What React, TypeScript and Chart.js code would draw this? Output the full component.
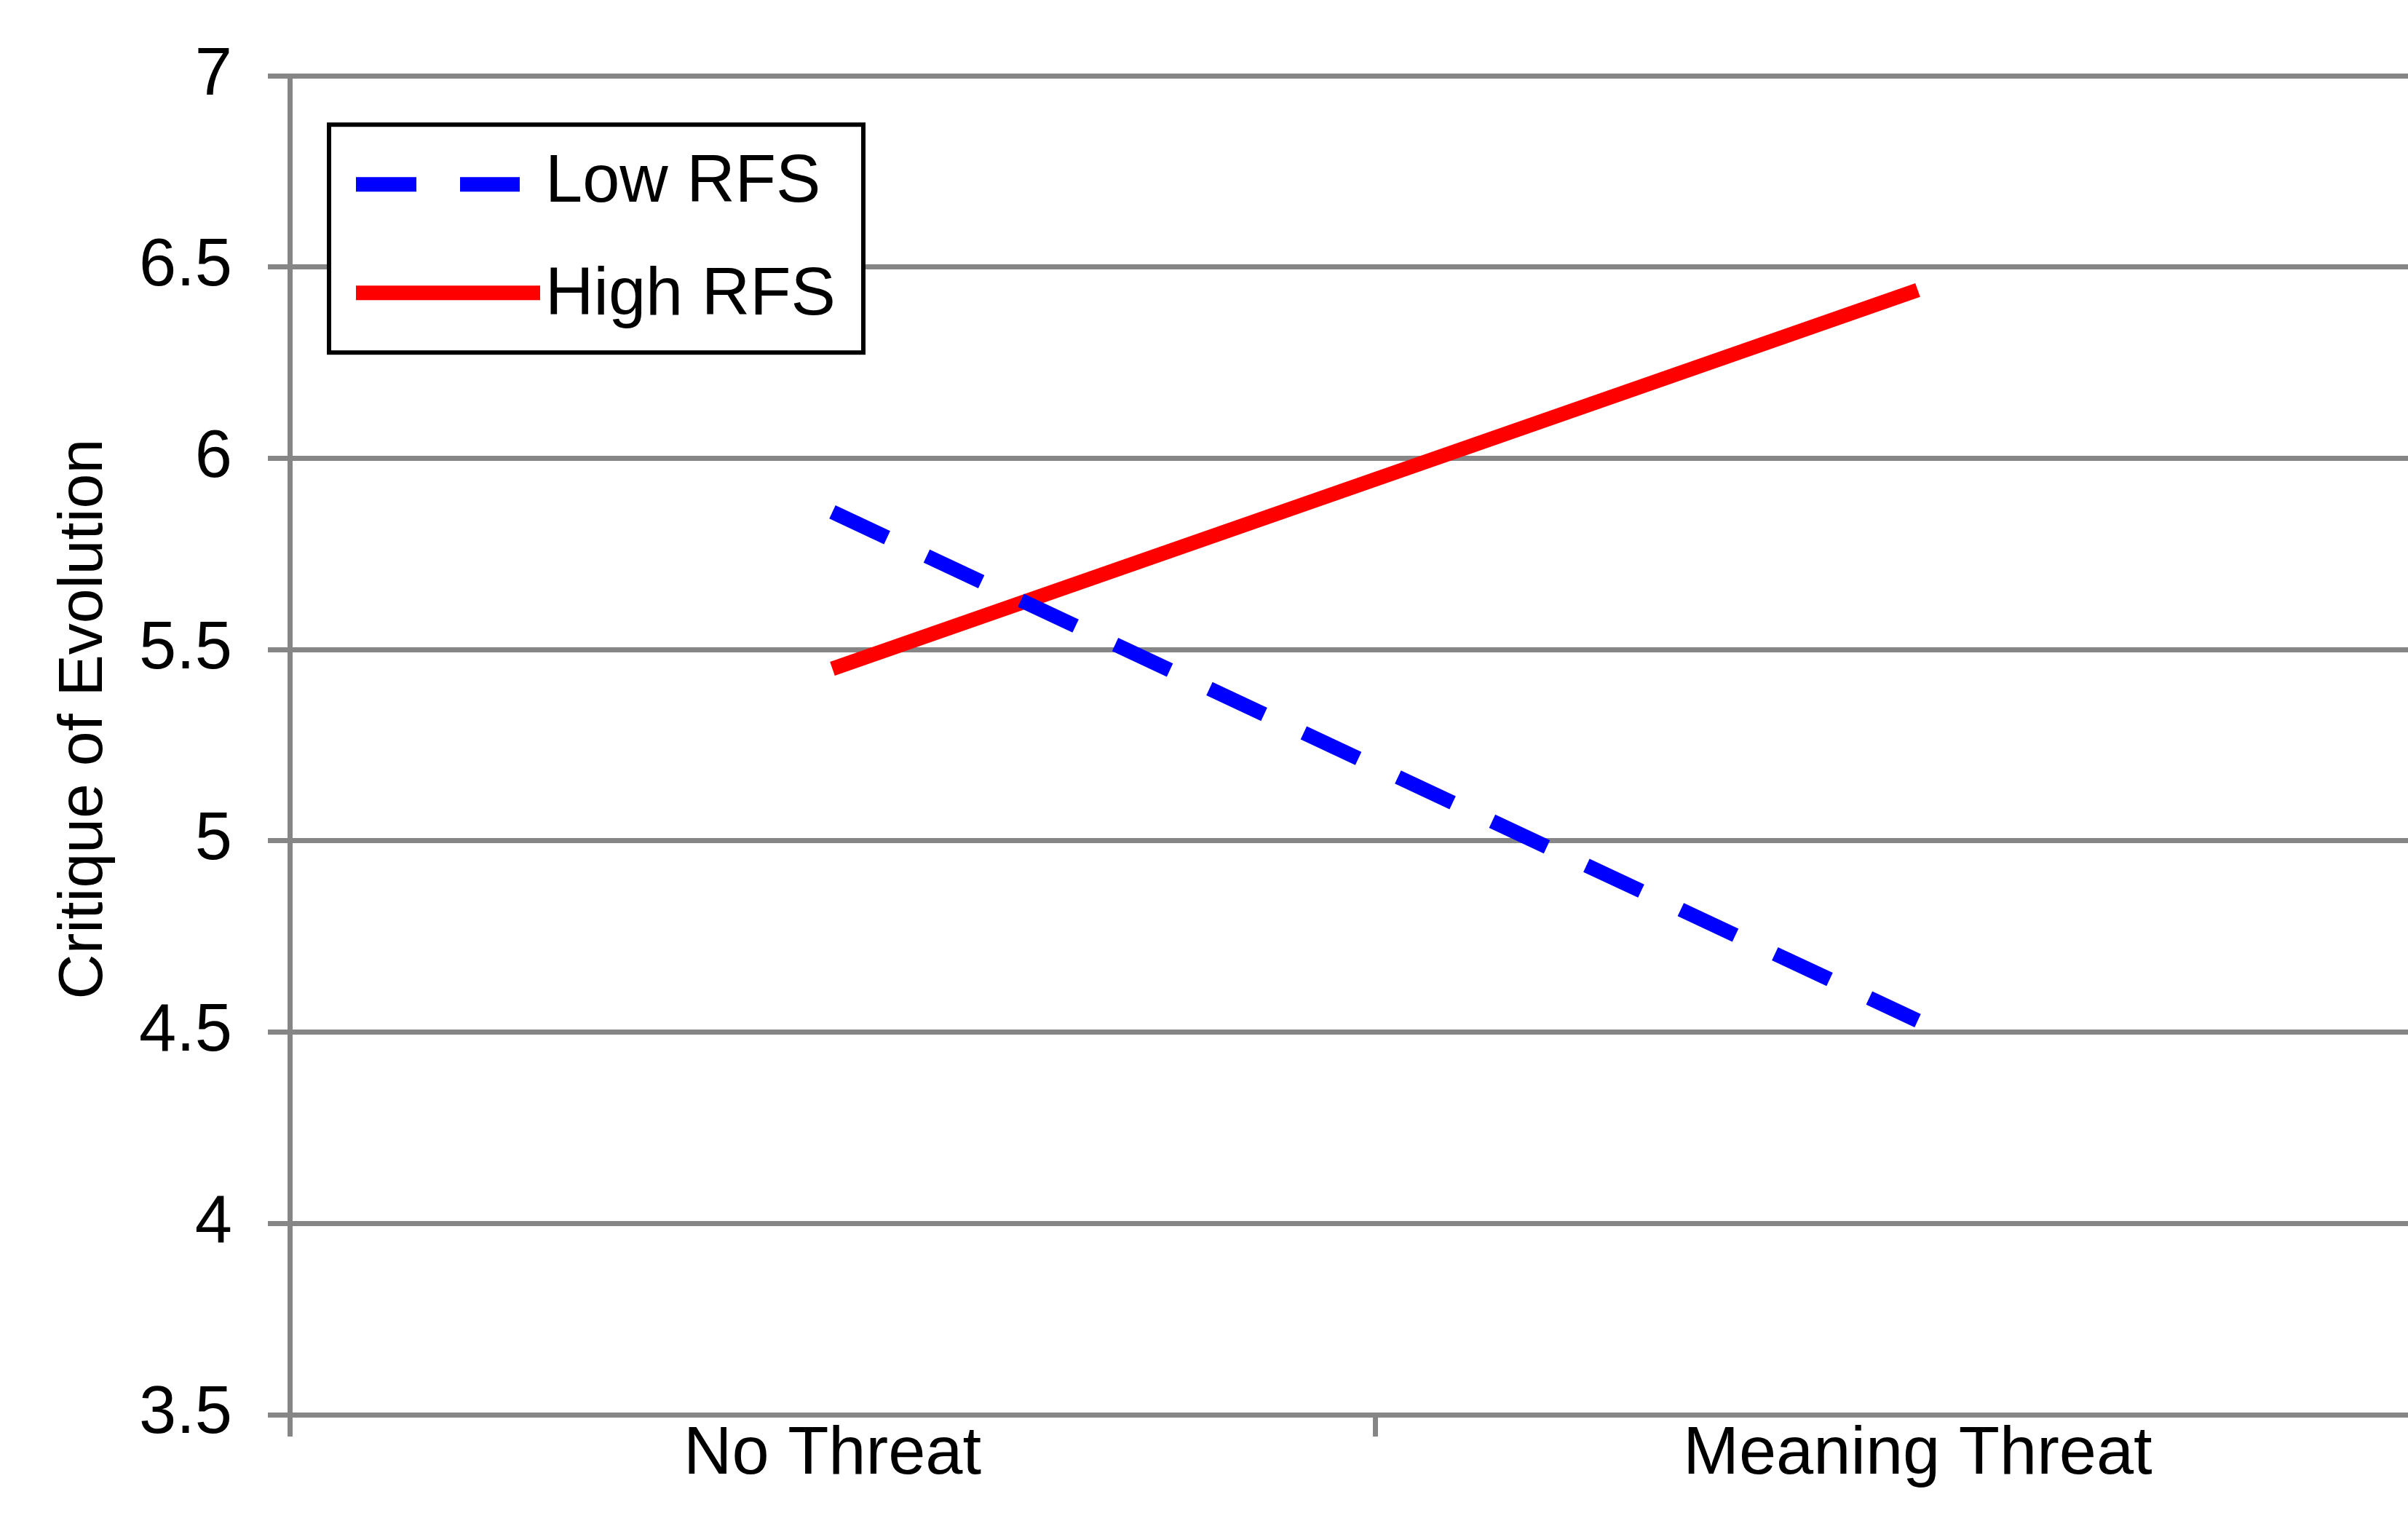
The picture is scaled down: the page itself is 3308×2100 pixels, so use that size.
import React, { useEffect, useRef } from 'react';
import { Chart, registerables } from 'chart.js';

Chart.register(...registerables);

// Data
const categories = ['No Threat', 'Meaning Threat'];
const seriesNames = ['Low RFS', 'High RFS'];
const lowRfs = [5.86, 4.53];
const highRfs = [5.45, 6.44];
const yTicks = [3.5, 4, 4.5, 5, 5.5, 6, 6.5, 7];
const yTitle = 'Critique of Evolution';

const FONT = '"Liberation Sans", Arial, Helvetica, sans-serif';
const GRID = '#868686';

// Boxed legend in the upper left of the plot, plus the rotated y title
const boxLegend = {
  id: 'boxLegend',
  afterDraw(chart: any) {
    const { ctx, chartArea } = chart;
    const x = chartArea.left + 54;
    const y = chartArea.top + 67;
    const w = 734;
    const h = 313;
    ctx.save();
    ctx.fillStyle = '#ffffff';
    ctx.fillRect(x, y, w, h);
    ctx.lineWidth = 6;
    ctx.strokeStyle = '#000000';
    ctx.strokeRect(x, y, w, h);

    const lineY = [82, 231];
    const textY = [106, 261];
    const lineEnd = [262, 290];
    chart.data.datasets.forEach((ds: any, i: number) => {
      ctx.beginPath();
      ctx.setLineDash(ds.borderDash || []);
      ctx.lineCap = 'butt';
      ctx.lineWidth = ds.borderWidth;
      ctx.strokeStyle = ds.borderColor;
      ctx.moveTo(x + 37, y + lineY[i]);
      ctx.lineTo(x + lineEnd[i], y + lineY[i]);
      ctx.stroke();
      ctx.setLineDash([]);
      ctx.fillStyle = '#000000';
      ctx.font = `92px ${FONT}`;
      ctx.textBaseline = 'alphabetic';
      ctx.textAlign = 'left';
      ctx.fillText(ds.label, x + 297, y + textY[i]);
    });

    // y axis title, sitting a little above the plot's middle as in the original
    ctx.translate(116, (chartArea.top + chartArea.bottom) / 2 - 36);
    ctx.rotate(-Math.PI / 2);
    ctx.fillStyle = '#000000';
    ctx.font = `86px ${FONT}`;
    ctx.textAlign = 'center';
    ctx.textBaseline = 'middle';
    ctx.fillText(yTitle, 0, 0);
    ctx.restore();
  },
};

export default function App() {
  const canvasRef = useRef<HTMLCanvasElement>(null);
  const chartRef = useRef<Chart | null>(null);

  useEffect(() => {
    document.body.style.margin = '0';
    document.documentElement.style.overflow = 'hidden';
    document.body.style.overflow = 'hidden';

    const canvas = canvasRef.current;
    if (!canvas) return;
    if (chartRef.current) chartRef.current.destroy();

    chartRef.current = new Chart(canvas, {
      type: 'line',
      data: {
        labels: categories,
        datasets: [
          {
            label: seriesNames[0],
            data: lowRfs,
            borderColor: '#0000ff',
            borderWidth: 20,
            borderDash: [83, 60],
            borderCapStyle: 'butt',
            pointRadius: 0,
            fill: false,
            tension: 0,
          },
          {
            label: seriesNames[1],
            data: highRfs,
            borderColor: '#ff0000',
            borderWidth: 20,
            borderCapStyle: 'butt',
            pointRadius: 0,
            fill: false,
            tension: 0,
          },
        ],
      },
      options: {
        animation: false,
        responsive: true,
        maintainAspectRatio: false,
        layout: { padding: { top: 95, left: 0, right: 0, bottom: 0 } },
        plugins: {
          legend: { display: false },
          tooltip: { enabled: false },
        },
        scales: {
          x: {
            offset: true,
            grid: {
              offset: true,
              drawOnChartArea: false,
              drawTicks: true,
              tickLength: 30,
              tickWidth: 7,
              tickColor: GRID,
              color: GRID,
            },
            border: { display: true, color: GRID, width: 7 },
            ticks: {
              color: '#000000',
              padding: -30,
              maxRotation: 0,
              font: { family: FONT, size: 92 },
            },
            afterFit: (scale: any) => {
              scale.height = 157;
            },
          },
          y: {
            min: 3.5,
            max: 7,
            afterBuildTicks: (scale: any) => {
              scale.ticks = yTicks.map((v) => ({ value: v }));
            },
            grid: {
              color: GRID,
              lineWidth: 7,
              tickLength: 30,
              tickColor: GRID,
              drawTicks: true,
            },
            border: { display: true, color: GRID, width: 7 },
            ticks: {
              color: '#000000',
              padding: 49,
              font: { family: FONT, size: 92 },
              callback: (v: any) => String(v),
            },
            afterFit: (scale: any) => {
              scale.width = 398;
            },
          },
        },
      },
      plugins: [boxLegend],
    });

    return () => {
      if (chartRef.current) {
        chartRef.current.destroy();
        chartRef.current = null;
      }
    };
  }, []);

  return (
    <div style={{ position: 'absolute', left: 0, top: 0, width: '3380px', height: '2100px', background: '#ffffff' }}>
      <canvas ref={canvasRef} />
    </div>
  );
}
